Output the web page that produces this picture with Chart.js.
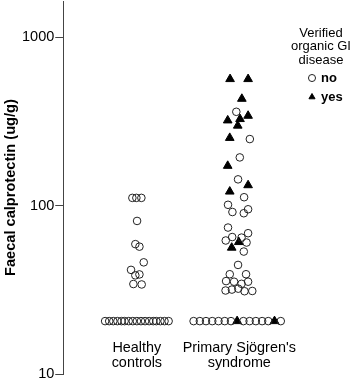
<!DOCTYPE html>
<html><head><meta charset="utf-8">
<script src="https://cdn.jsdelivr.net/npm/chart.js@4.4.1/dist/chart.umd.min.js"></script>
<style>html,body{margin:0;padding:0;background:#fff}canvas{display:block}</style>
</head><body>
<canvas id="c" width="358" height="379"></canvas>
<script>
// ---- data ----
const categories = [["Healthy", "controls"], ["Primary Sjögren's", "syndrome"]];
const categoryPositions = [1, 2];
const yTickValues = [10, 100, 1000];
const yAxisTitle = "Faecal calprotectin (ug/g)";
const legendTitle = ["Verified", "organic GI", "disease"];
const seriesNames = ["no", "yes"];

// Healthy controls (all "no")
const healthyNoX = [0.956, 0.995, 1.044, 1.002, 0.985, 1.025, 1.067, 0.943, 1.025, 0.985, 0.966, 1.047,
  0.69, 0.73, 0.77, 0.81, 0.85, 0.88, 0.92, 0.96, 1.00, 1.04, 1.08, 1.12, 1.16, 1.19, 1.23, 1.27, 1.31];
const healthyNoY = [111, 111, 111, 81, 59, 57, 46, 41.5, 39, 38.5, 34.2, 34,
  20.6, 20.6, 20.6, 20.6, 20.6, 20.6, 20.6, 20.6, 20.6, 20.6, 20.6, 20.6, 20.6, 20.6, 20.6, 20.6, 20.6];

// Primary Sjögren's syndrome, verified organic GI disease: no
const pssNoX = [1.971, 2.103, 2.005, 1.988, 2.047, 1.890, 2.086, 1.933, 2.044,
  1.890, 1.931, 2.022, 2.086, 1.868, 2.071, 2.044,
  1.988, 1.907, 2.066, 1.871, 1.949, 2.022, 2.086, 1.866, 1.928, 1.990, 2.051, 2.127,
  1.554, 1.615, 1.675, 1.736, 1.797, 1.858, 1.919, 2.040, 2.101, 2.162, 2.223, 2.283, 2.405];
const pssNoY = [360, 248, 193, 143, 112, 101, 95, 91.5, 90,
  74, 65, 64.5, 68.5, 62, 60.3, 53.3,
  44.4, 39.1, 39.1, 35.6, 35.3, 34.3, 35.3, 31.3, 31.7, 32.1, 31.0, 31.1,
  20.6, 20.6, 20.6, 20.6, 20.6, 20.6, 20.6, 20.6, 20.6, 20.6, 20.6, 20.6, 20.6];

// Primary Sjögren's syndrome, verified organic GI disease: yes
const pssYesX = [1.910, 2.086, 2.025, 2.086, 2.007, 1.887, 1.985, 1.907, 1.887, 2.086, 1.907, 1.995, 1.926, 1.979, 2.344];
const pssYesY = [563, 563, 430, 341, 326, 320, 298, 252, 172, 132, 121, 60.7, 56.2, 20.6, 20.6];

// ---- axis ranges ----
const yMin = 10, yMax = 1635;
const xMin = 0.2814, xMax = 2.627;
const labelAxisAt = 18.5;

const toPoints = (xs, ys) => xs.map((x, i) => ({x: x, y: ys[i]}));

Chart.defaults.font.family = "'Liberation Sans', Arial, sans-serif";
Chart.defaults.color = '#000';

// let the legend title overhang its (narrow) legend box instead of being clipped
const noClipLegend = {
  id: 'noClipLegend',
  afterUpdate(chart) {
    const lg = chart.legend;
    if (lg && !lg.__noClip) {
      lg.__noClip = true;
      lg.draw = function () { if (this.options.display) { this._draw(); } };
    }
  }
};

new Chart(document.getElementById('c'), {
  type: 'scatter',
  plugins: [noClipLegend],
  data: {
    datasets: [
      {
        label: seriesNames[0],
        data: toPoints(healthyNoX, healthyNoY).concat(toPoints(pssNoX, pssNoY)),
        pointStyle: 'circle',
        pointRadius: 3.8,
        pointHoverRadius: 3.8,
        borderWidth: 1,
        borderColor: '#222',
        backgroundColor: 'rgba(255,255,255,0)'
      },
      {
        label: seriesNames[1],
        data: toPoints(pssYesX, pssYesY),
        pointStyle: 'triangle',
        pointRadius: 5,
        pointHoverRadius: 5,
        borderWidth: 1,
        borderColor: '#000',
        backgroundColor: '#000'
      }
    ]
  },
  options: {
    responsive: false,
    animation: false,
    devicePixelRatio: 1,
    layout: { autoPadding: false, padding: { left: 0, right: 19.5, top: 0, bottom: 5 } },
    plugins: {
      tooltip: { enabled: false },
      legend: {
        position: 'right',
        align: 'start',
        maxWidth: 35,
        labels: {
          usePointStyle: true,
          boxWidth: 5,
          boxHeight: 5,
          padding: 6,
          color: '#000',
          font: { size: 13, weight: 'bold' }
        },
        title: {
          display: true,
          text: legendTitle,
          color: '#000',
          font: { size: 13, lineHeight: 1.04 },
          padding: { top: 26.5, bottom: 25.5 }
        }
      }
    },
    scales: {
      x: {
        type: 'linear',
        bounds: 'data',
        min: xMin,
        max: xMax,
        position: { y: labelAxisAt },
        grid: { display: false },
        border: { display: false },
        afterBuildTicks: (axis) => { axis.ticks = categoryPositions.map(v => ({ value: v })); },
        ticks: {
          autoSkip: false,
          maxRotation: 0,
          padding: 3,
          color: '#000',
          font: { size: 14.4, lineHeight: 1.05 },
          callback: (v) => { const i = categoryPositions.indexOf(v); return i >= 0 ? categories[i] : null; }
        }
      },
      y: {
        type: 'logarithmic',
        bounds: 'data',
        min: yMin,
        max: yMax,
        afterBuildTicks: (axis) => { axis.ticks = yTickValues.concat([yMax]).map(v => ({ value: v })); },
        grid: {
          display: true,
          drawOnChartArea: false,
          drawTicks: true,
          tickLength: 8,
          tickWidth: 1,
          tickColor: (ctx) => (ctx.tick && yTickValues.includes(ctx.tick.value)) ? '#444' : 'rgba(0,0,0,0)'
        },
        border: { display: true, color: '#444', width: 1 },
        ticks: {
          padding: 1,
          color: '#000',
          font: { size: 14.5, lineHeight: 0.01 },
          callback: (v) => yTickValues.includes(v) ? String(v) : null
        },
        title: {
          display: true,
          text: yAxisTitle,
          color: '#000',
          font: { size: 14.6, weight: 'bold' },
          padding: { top: 2, bottom: 1.5 }
        }
      }
    }
  }
});
</script>
</body></html>
